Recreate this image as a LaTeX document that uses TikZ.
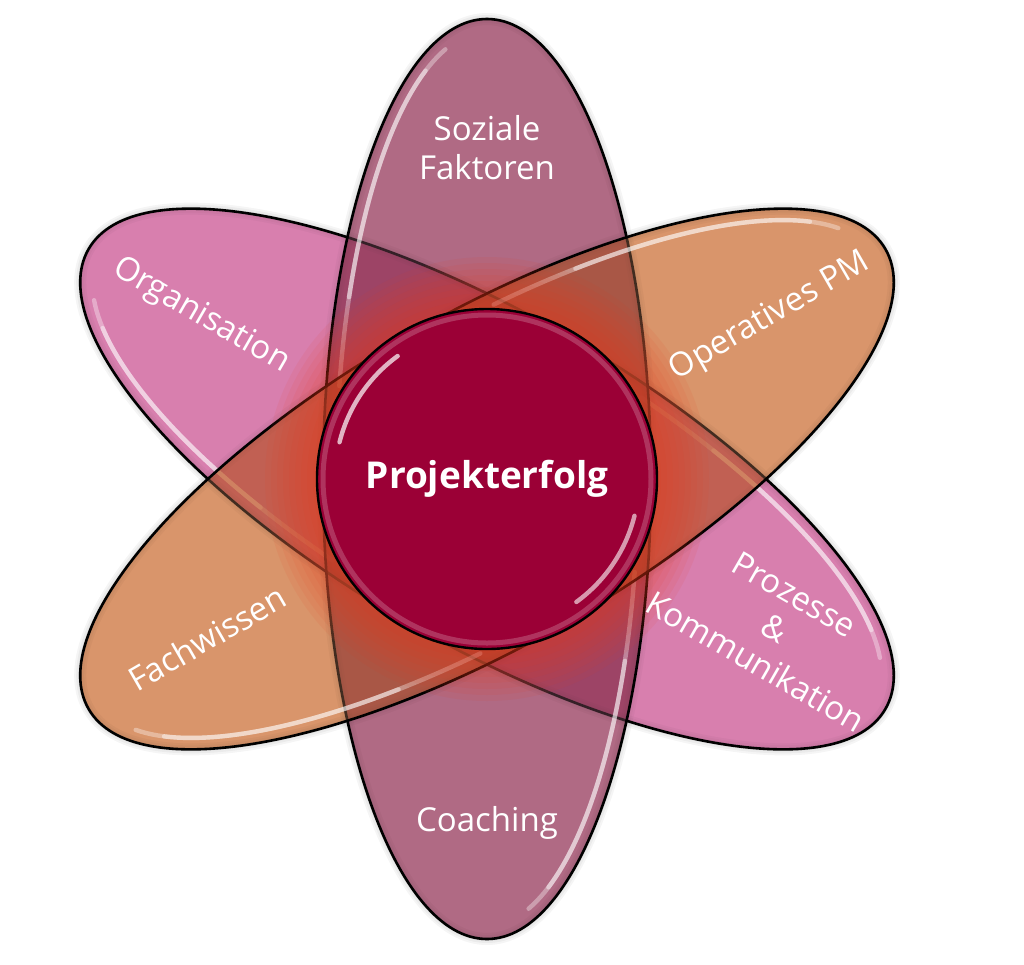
\documentclass[tikz,border=0pt]{standalone}
\usepackage{fontspec}
\setmainfont{Open Sans}

\definecolor{mauve}{RGB}{176,106,132}
\definecolor{rosa}{RGB}{216,127,174}
\definecolor{apricot}{RGB}{217,149,107}
\definecolor{kern}{RGB}{155,0,54}
\definecolor{glut}{RGB}{232,58,28}

\begin{document}
\begin{tikzpicture}[x=0.5pt,y=-0.5pt]
	\tikzstyle{every node}=[text=white,align=center,font=\fontsize{16.5}{19.5}\selectfont]
	\tikzstyle{orbit}=[draw=black,line width=1.3pt,fill opacity=0.3]
	\tikzstyle{gloss}=[white,line width=2.2pt,line cap=round]

	\fill[white] (0,0) rectangle (1024,965);
	\useasboundingbox (0,0) rectangle (1024,965);
	\coordinate (m) at (487,479);

	% soft shadow
	\foreach \r in {-30,90,30}
		\foreach \w in {2,4,6}
			\draw[black,opacity=0.04,line width=\w pt,rotate around={\r:(m)}] (m) ellipse [x radius=460,y radius=164];

	% the three orbits
	\foreach \r/\c in {-30/rosa,90/mauve,30/apricot} {
		\fill[\c,blend mode=multiply,rotate around={\r:(m)}] (m) ellipse [x radius=460,y radius=164];
		\draw[orbit,fill=\c,rotate around={\r:(m)}] (m) ellipse [x radius=460,y radius=164];
		\begin{scope}[shift={(m)},rotate=\r]
			\draw[gloss,opacity=.35] plot[domain=-78:-16,samples=40] ({447*cos(\x)},{151*sin(\x)});
			\draw[gloss,opacity=.45] plot[domain=-66:-24,samples=30] ({447*cos(\x)},{151*sin(\x)});
			\draw[gloss,opacity=.35] plot[domain=102:164,samples=40] ({447*cos(\x)},{151*sin(\x)});
			\draw[gloss,opacity=.45] plot[domain=114:156,samples=30] ({447*cos(\x)},{151*sin(\x)});
		\end{scope}
	}

	% glow
	\foreach \r in {174,180,...,222}
		\fill[glut,opacity=0.08] (m) circle [radius=\r];

	\draw[fill=kern,line width=1.2pt] (m) circle [radius=170];
	\draw[kern!55!white,line width=2.5pt,opacity=.45] (m) circle [radius=164];
	\draw[gloss,opacity=.7] (m) ++(-166:152) arc [start angle=-166,end angle=-126,radius=152];
	\draw[gloss,opacity=.6] (m) ++(14:152) arc [start angle=14,end angle=54,radius=152];

	\node (soziale) at (487,148) {Soziale\\Faktoren};
	\node (coaching) at (487,823) {Coaching};
	\node[rotate=-30] (organisation) at (201,316) {Organisation};
	\node[rotate=30] (operativ) at (770,317) {Operatives PM};
	\node[rotate=30] (fachwissen) at (207,638) {Fachwissen};
	\node[rotate=-30] (prozesse) at (775,628) {Prozesse\\\&\\Kommunikation};
	\node[font=\bfseries\fontsize{18.5}{22}\selectfont] (erfolg) at (m) {Projekterfolg};
\end{tikzpicture}
\end{document}
